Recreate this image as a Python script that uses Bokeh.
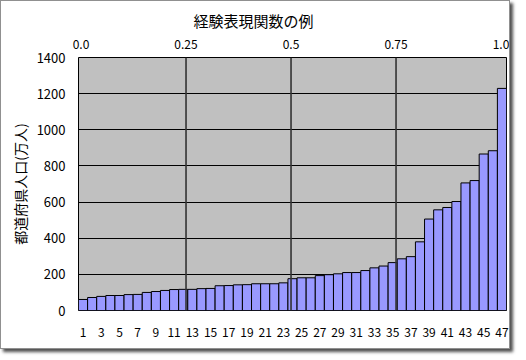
from bokeh.plotting import figure
from bokeh.models import Range1d, LinearAxis, FixedTicker
from bokeh.embed import file_html
from bokeh.resources import INLINE

# data: prefecture population (10k persons), sorted ascending
ranks = list(range(1, 48))
population = [61, 72, 78, 83, 83, 88, 89, 100, 105, 111, 116, 117, 117, 121, 122,
              137, 138, 142, 143, 148, 148, 148, 153, 176, 181, 181, 193, 198, 203,
              210, 210, 221, 236, 246, 265, 286, 298, 380, 506, 557, 570, 603, 706,
              719, 866, 884, 1229]
bottom_ticks = list(range(1, 48, 2))
y_ticks = [0, 200, 400, 600, 800, 1000, 1200, 1400]
grid_ticks = [200, 400, 600, 800, 1000, 1200]
top_ticks = [0.0, 0.25, 0.5, 0.75, 1.0]
top_labels = ["0.0", "0.25", "0.5", "0.75", "1.0"]
quantile_lines = [0.25, 0.5, 0.75]

FONT = "Noto Sans CJK JP"

p = figure(width=510, height=349, output_backend="svg", toolbar_location=None,
           x_range=Range1d(0.5, 47.5), y_range=Range1d(0, 1400),
           title="経験表現関数の例", x_axis_location="below")
p.min_border_left = 77
p.min_border_right = 5
p.min_border_top = 55
p.min_border_bottom = 40
p.border_fill_color = "white"
p.background_fill_color = "#C0C0C0"
p.outline_line_color = "black"
p.outline_line_width = 1
p.styles = {"border": "1px solid #909090", "box-shadow": "3px 3px 3px #505050"}

p.title.align = "left"
p.title.offset = 115
p.title.text_font = FONT
p.title.text_font_size = "15px"
p.title.text_font_style = "normal"
p.title.text_color = "black"
p.title.standoff = 12

p.extra_x_ranges = {"top": Range1d(-0.006, 1.013)}

# grid
p.xgrid.visible = False
p.ygrid.ticker = FixedTicker(ticks=grid_ticks)
p.ygrid.grid_line_color = "black"
p.ygrid.grid_line_width = 1

# bars
p.vbar(x=ranks, top=population, width=1.0, fill_color="#9999FF",
       line_color="black", line_width=1)

# quantile lines on the top scale
p.segment(x0=quantile_lines, x1=quantile_lines, y0=[0] * 3, y1=[1400] * 3,
          x_range_name="top", line_color="#333333", line_width=1.6)

# axes styling
def style_axis(ax, size):
    ax.axis_line_color = None
    ax.major_tick_line_color = None
    ax.minor_tick_line_color = None
    ax.major_tick_in = 0
    ax.major_tick_out = 0
    ax.major_label_text_font = FONT
    ax.major_label_text_font_size = size
    ax.major_label_text_color = "black"

xa = p.xaxis[0]
xa.ticker = FixedTicker(ticks=bottom_ticks)
style_axis(xa, "12px")
xa.major_label_standoff = 17

ya = p.yaxis[0]
ya.ticker = FixedTicker(ticks=y_ticks)
style_axis(ya, "13px")
ya.major_label_standoff = 13
ya.axis_label = "都道府県人口(万人)"
ya.axis_label_text_font = FONT
ya.axis_label_text_font_size = "14px"
ya.axis_label_text_font_style = "normal"
ya.axis_label_text_color = "black"
ya.axis_label_standoff = 4

top_axis = LinearAxis(x_range_name="top", ticker=FixedTicker(ticks=top_ticks),
                      major_label_overrides={t: l for t, l in zip(top_ticks, top_labels)})
style_axis(top_axis, "12px")
top_axis.major_label_standoff = 9
p.add_layout(top_axis, "above")

open("out.html", "w").write(file_html(p, INLINE))
